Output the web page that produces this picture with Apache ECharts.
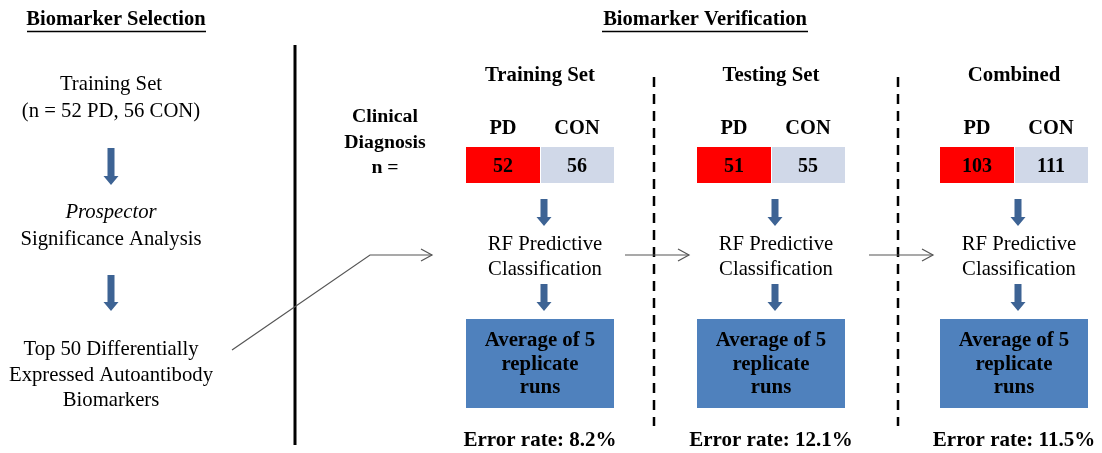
<!DOCTYPE html>
<html><head><meta charset="utf-8">
<script src="https://cdn.jsdelivr.net/npm/echarts@6/dist/echarts.min.js"></script>
<style>html,body{margin:0;padding:0;background:#fff}#c{width:1102px;height:453px}</style>
</head><body><div id="c"></div>
<script>
const sectionTitles = ['Biomarker Selection', 'Biomarker Verification'];
const leftSteps = [['Training Set', '(n = 52 PD, 56 CON)'], ['Prospector', 'Significance Analysis'], ['Top 50 Differentially', 'Expressed Autoantibody', 'Biomarkers']];
const columns = ['Training Set', 'Testing Set', 'Combined'];
const groups = ['PD', 'CON'];
const pdCounts = [52, 51, 103];
const conCounts = [56, 55, 111];
const errorRates = [8.2, 12.1, 11.5];
const diagnosisLabel = ['Clinical', 'Diagnosis', 'n ='];
const classifierLabel = ['RF Predictive', 'Classification'];
const resultLabel = ['Average of 5', 'replicate', 'runs'];

const SERIF = '"Liberation Serif", "Times New Roman", serif';
const ARROW = '#3d6394';
const LINE = '#555';
const els = [];

function txt(x, y, s, size, bold, italic, color) {
  els.push({type: 'text', style: {x, y, text: s, fill: color || '#000',
    font: (italic ? 'italic ' : '') + (bold ? 'bold ' : '') + size + 'px ' + SERIF,
    align: 'center', verticalAlign: 'middle'}});
}
function downArrow(x, y0, y1) {
  const sw = 3.5, hw = 7.5, hh = 9;
  els.push({type: 'polygon', shape: {points: [[x - sw, y0], [x + sw, y0], [x + sw, y1 - hh], [x + hw, y1 - hh], [x, y1], [x - hw, y1 - hh], [x - sw, y1 - hh]]},
    style: {fill: ARROW}});
}
function openArrow(points) {
  els.push({type: 'polyline', shape: {points}, style: {stroke: LINE, lineWidth: 1.2, fill: null}});
  const [tx, ty] = points[points.length - 1];
  els.push({type: 'polyline', shape: {points: [[tx - 11, ty - 6], [tx, ty], [tx - 11, ty + 6]]}, style: {stroke: LINE, lineWidth: 1.2, fill: null}});
}

const REG = 20.7, BOLD = 20.8;

// section titles with underline
const titleX = [116, 705];
sectionTitles.forEach((t, i) => {
  txt(titleX[i], 20, t, 20.5, true);
});
els.push({type: 'line', shape: {x1: 27, y1: 31.5, x2: 206, y2: 31.5}, style: {stroke: '#000', lineWidth: 1.3}});
els.push({type: 'line', shape: {x1: 602, y1: 31.5, x2: 808, y2: 31.5}, style: {stroke: '#000', lineWidth: 1.3}});

// divider
els.push({type: 'line', shape: {x1: 295, y1: 45, x2: 295, y2: 445}, style: {stroke: '#000', lineWidth: 3}});
[654, 898].forEach(x => els.push({type: 'line', shape: {x1: x, y1: 77, x2: x, y2: 426}, style: {stroke: '#000', lineWidth: 2.5, lineDash: [10, 7]}}));

// left column
const lx = 111;
txt(lx, 85, leftSteps[0][0], REG);
txt(lx, 112, leftSteps[0][1], REG);
downArrow(lx, 148, 185);
txt(lx, 213, leftSteps[1][0], REG, false, true);
txt(lx, 240, leftSteps[1][1], REG);
downArrow(lx, 275, 311);
leftSteps[2].forEach((s, i) => txt(lx, 350 + i * 25.5, s, REG));

// flow arrows
openArrow([[232, 350], [370, 255], [432, 255]]);
openArrow([[625, 255], [689, 255]]);
openArrow([[869, 255], [933, 255]]);

// clinical diagnosis label
diagnosisLabel.forEach((s, i) => txt(385, 117 + i * 25.5, s, 19.8, true));

// verification columns
const colX = [540, 771, 1014];
columns.forEach((name, i) => {
  const cx = colX[i];
  txt(cx, 76, name, BOLD, true);
  txt(cx - 37, 129, groups[0], 20.4, true);
  txt(cx + 37, 129, groups[1], 20.4, true);
  els.push({type: 'rect', shape: {x: cx - 74, y: 147, width: 74, height: 36}, style: {fill: '#ff0000'}});
  els.push({type: 'rect', shape: {x: cx + 1, y: 147, width: 73, height: 36}, style: {fill: '#d0d8e8'}});
  txt(cx - 37, 167, String(pdCounts[i]), 20, true);
  txt(cx + 37, 167, String(conCounts[i]), 20, true);
  downArrow(cx + 4, 199, 226);
  txt(cx + 5, 245, classifierLabel[0], REG);
  txt(cx + 5, 270, classifierLabel[1], REG);
  downArrow(cx + 4, 284, 311);
  els.push({type: 'rect', shape: {x: cx - 74, y: 319, width: 148, height: 89}, style: {fill: '#4f81bd'}});
  resultLabel.forEach((s, k) => txt(cx, 341 + k * 23.5, s, BOLD, true));
  txt(cx, 441, 'Error rate: ' + errorRates[i] + '%', 21, true);
});

const chart = echarts.init(document.getElementById('c'), null, {renderer: 'canvas'});
chart.setOption({backgroundColor: '#fff', animation: false, graphic: {elements: els}});
</script></body></html>
